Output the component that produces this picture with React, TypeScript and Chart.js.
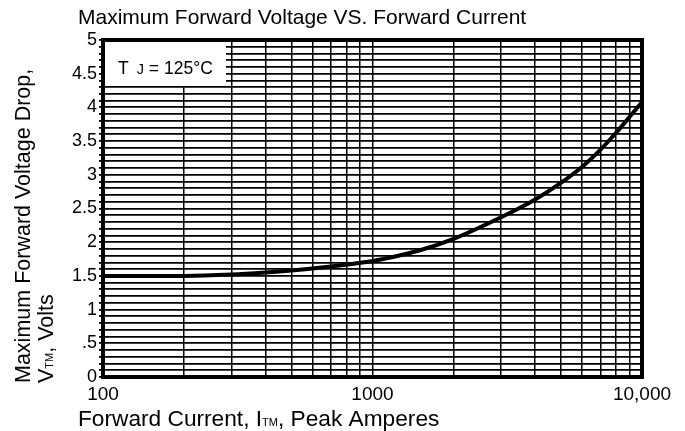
import React, { useEffect, useRef } from "react";
import { Chart, registerables } from "chart.js";

Chart.register(...registerables);

const currents = [100, 200, 300, 400, 500, 700, 1000, 1500, 2000, 3000, 4000, 5000, 6000, 7000, 8000, 9000, 10000];
const voltages = [1.5, 1.5, 1.52, 1.55, 1.58, 1.64, 1.72, 1.88, 2.05, 2.37, 2.63, 2.88, 3.12, 3.37, 3.62, 3.86, 4.08];
const xGridValues = [100, 200, 300, 400, 500, 600, 700, 800, 900, 1000, 2000, 3000, 4000, 5000, 6000, 7000, 8000, 9000, 10000];
const xLabelValues = [100, 1000, 10000];
const xLabelTexts = ["100", "1000", "10,000"];
const yLabelValues = [0, 0.5, 1, 1.5, 2, 2.5, 3, 3.5, 4, 4.5, 5];
const yLabelTexts = ["0", ".5", "1", "1.5", "2", "2.5", "3", "3.5", "4", "4.5", "5"];

const FONT = "'Liberation Sans', Arial, sans-serif";

type Seg = [string, number, number];

function drawSegs(ctx: CanvasRenderingContext2D, segs: Seg[], x: number, y: number) {
  let cx = x;
  for (const [t, size, dy] of segs) {
    ctx.font = `${size}px ${FONT}`;
    ctx.fillText(t, cx, y + dy);
    cx += ctx.measureText(t).width;
  }
}

const textPlugin = {
  id: "textPlugin",
  afterDraw(chart: any) {
    const ctx: CanvasRenderingContext2D = chart.ctx;
    const a = chart.chartArea;
    ctx.save();
    // border
    ctx.strokeStyle = "#000";
    ctx.lineWidth = 4;
    ctx.strokeRect(a.left, a.top, a.right - a.left, a.bottom - a.top);
    // TJ box
    ctx.fillStyle = "#fff";
    ctx.fillRect(a.left + 2, a.top + 2, 121, 44);
    ctx.fillStyle = "#000";
    ctx.textBaseline = "alphabetic";
    ctx.textAlign = "left";
    drawSegs(ctx, [["T", 17.5, 0], ["  J", 14.5, 0], [" = 125°C", 17.5, 0]], a.left + 15, a.top + 34);
    // title
    drawSegs(ctx, [["Maximum Forward Voltage VS. Forward Current", 21, 0]], 78, 24);
    // x title
    drawSegs(ctx, [["Forward Current, I", 22.7, 0], ["TM", 11, 0], [", Peak Amperes", 22.7, 0]], 78, 426);
    // y title
    ctx.save();
    ctx.translate(30, 383);
    ctx.rotate(-Math.PI / 2);
    drawSegs(ctx, [["Maximum Forward Voltage Drop,", 21.5, 0]], 0, 0);
    ctx.restore();
    ctx.save();
    ctx.translate(53, 383);
    ctx.rotate(-Math.PI / 2);
    drawSegs(ctx, [["V", 21.5, 0], ["TM", 11, 0], [", Volts", 21.5, 0]], 0, 0);
    ctx.restore();
    ctx.restore();
  },
};

export default function App() {
  const ref = useRef<HTMLCanvasElement>(null);
  useEffect(() => {
    if (!ref.current) return;
    const chart = new Chart(ref.current, {
      type: "line",
      data: {
        datasets: [
          {
            data: currents.map((c, i) => ({ x: c, y: voltages[i] })),
            borderColor: "#000",
            borderWidth: 4,
            pointRadius: 0,
            cubicInterpolationMode: "monotone",
            fill: false,
          },
        ],
      },
      options: {
        animation: false,
        responsive: false,
        maintainAspectRatio: false,
        layout: { padding: { left: 0, right: 43, top: 40, bottom: 0 } },
        plugins: { legend: { display: false }, tooltip: { enabled: false }, title: { display: false } },
        scales: {
          x: {
            type: "logarithmic",
            min: 100,
            max: 10000,
            afterBuildTicks: (s: any) => {
              s.ticks = xGridValues.map((v) => ({ value: v }));
            },
            afterFit: (s: any) => {
              s.height = 54;
            },
            ticks: {
              autoSkip: false,
              maxRotation: 0,
              minRotation: 0,
              color: "#000",
              padding: 6,
              font: { family: FONT, size: 19 },
              callback: (v: any) => {
                const i = xLabelValues.indexOf(Number(v));
                return i >= 0 ? xLabelTexts[i] : "";
              },
            },
            grid: { color: "#000", lineWidth: 1.5, drawTicks: false },
            border: { display: false },
          },
          y: {
            min: 0,
            max: 5,
            afterFit: (s: any) => {
              s.width = 103;
            },
            ticks: {
              stepSize: 0.1,
              autoSkip: false,
              color: "#000",
              padding: 2,
              font: { family: FONT, size: 18 },
              callback: (v: any) => {
                const n = Number(v);
                const i = yLabelValues.findIndex((y) => Math.abs(y - n) < 1e-6);
                return i >= 0 ? yLabelTexts[i] : "";
              },
            },
            grid: { color: "#000", lineWidth: 1.8, tickLength: 4 },
            border: { display: false },
          },
        },
      },
      plugins: [textPlugin],
    } as any);
    return () => chart.destroy();
  }, []);
  return (
    <canvas
      ref={ref}
      width={685}
      height={431}
      style={{ position: "fixed", left: 0, top: 0, width: 685, height: 431, background: "#fff" }}
    />
  );
}
